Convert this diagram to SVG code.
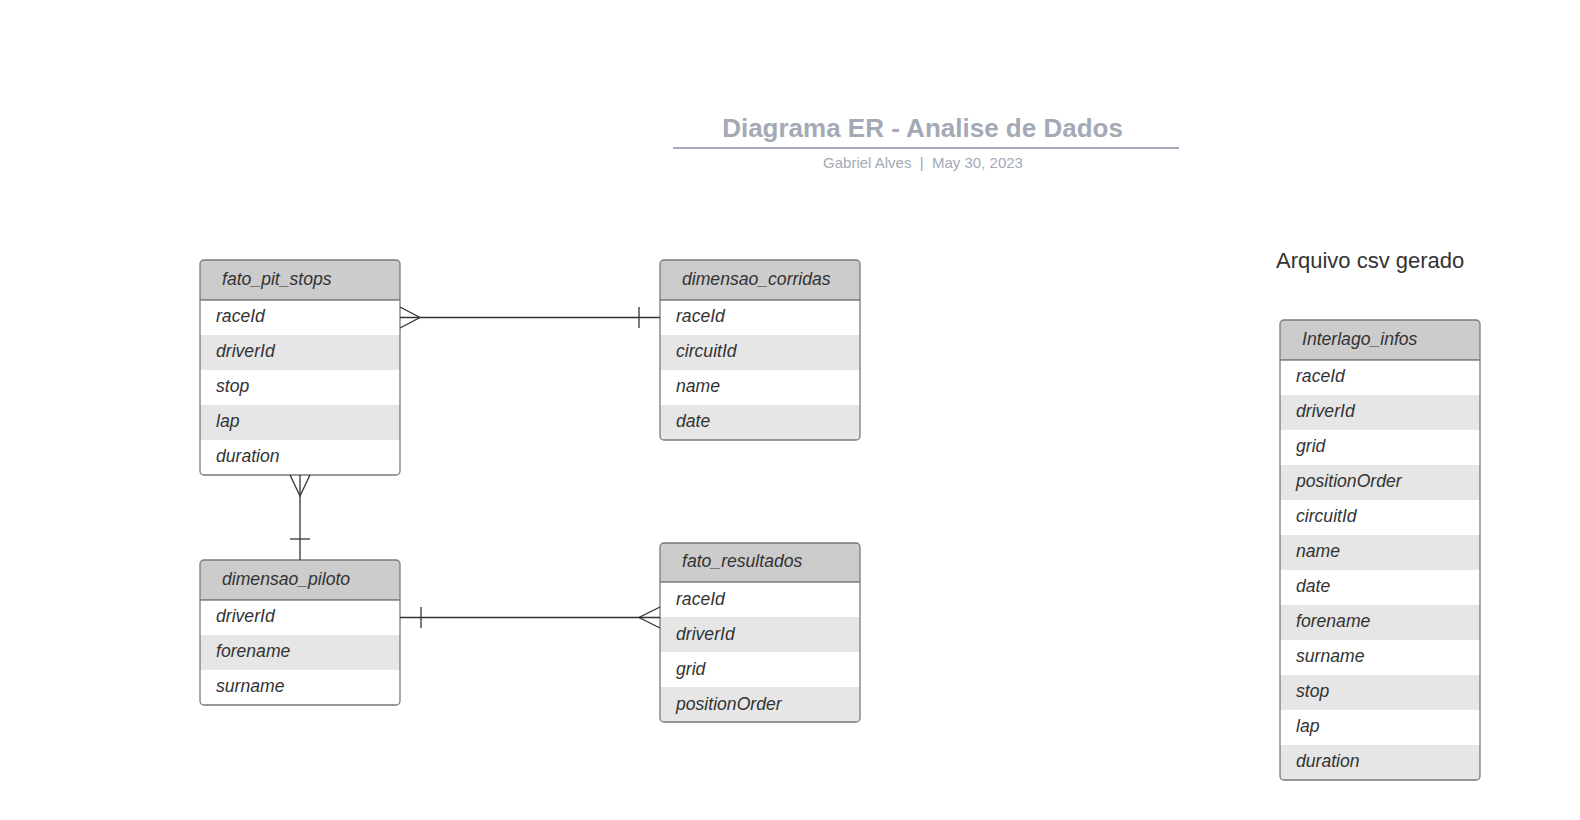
<svg xmlns="http://www.w3.org/2000/svg" width="1580" height="820" viewBox="0 0 1580 820">
<style>
.frame{fill:none;stroke:#7a7a7a;stroke-width:1.3}
.hdr{fill:#cccccc}
.hsep{stroke:#444;stroke-width:1.2}
.even{fill:#e6e6e6}
.ht{font-family:"Liberation Sans",Arial,sans-serif;font-size:17.6px;font-style:italic;fill:#333}
.rt{font-family:"Liberation Sans",Arial,sans-serif;font-size:17.6px;font-style:italic;fill:#333}
.conn{fill:none;stroke:#333;stroke-width:1.3}
.title{font-family:"Liberation Sans",Arial,sans-serif;font-size:26px;font-weight:bold;fill:#a4aab5}
.sub{font-family:"Liberation Sans",Arial,sans-serif;font-size:15px;fill:#a4aab5}
.note{font-family:"Liberation Sans",Arial,sans-serif;font-size:22px;fill:#333}
</style>
<rect width="1580" height="820" fill="#ffffff"/>

<g id="title">
<text class="title" x="922.5" y="137" text-anchor="middle">Diagrama ER - Analise de Dados</text>
<line x1="673" y1="148" x2="1179" y2="148" stroke="#a4aab5" stroke-width="2"/>
<text class="sub" x="923" y="168" text-anchor="middle" xml:space="preserve">Gabriel Alves  |  May 30, 2023</text>
</g>

<g id="fato_pit_stops">
<rect x="200" y="260" width="200" height="215" rx="4" fill="#fff"/>
<path class="hdr" d="M204,260 H396 A4,4 0 0 1 400,264 V300 H200 V264 A4,4 0 0 1 204,260 Z"/>
<rect class="even" x="200" y="335" width="200" height="35"/>
<rect class="even" x="200" y="405" width="200" height="35"/>
<line class="hsep" x1="200" y1="300" x2="400" y2="300"/>
<rect class="frame" x="200" y="260" width="200" height="215" rx="4"/>
<text class="ht" x="222" y="284.5">fato_pit_stops</text>
<text class="rt" x="216" y="322">raceId</text>
<text class="rt" x="216" y="357">driverId</text>
<text class="rt" x="216" y="392">stop</text>
<text class="rt" x="216" y="427">lap</text>
<text class="rt" x="216" y="462">duration</text>
</g>

<g id="dimensao_corridas">
<rect x="660" y="260" width="200" height="180" rx="4" fill="#fff"/>
<path class="hdr" d="M664,260 H856 A4,4 0 0 1 860,264 V300 H660 V264 A4,4 0 0 1 664,260 Z"/>
<rect class="even" x="660" y="335" width="200" height="35"/>
<path class="even" d="M660,405 H860 V436 A4,4 0 0 1 856,440 H664 A4,4 0 0 1 660,436 Z"/>
<line class="hsep" x1="660" y1="300" x2="860" y2="300"/>
<rect class="frame" x="660" y="260" width="200" height="180" rx="4"/>
<text class="ht" x="682" y="284.5">dimensao_corridas</text>
<text class="rt" x="676" y="322">raceId</text>
<text class="rt" x="676" y="357">circuitId</text>
<text class="rt" x="676" y="392">name</text>
<text class="rt" x="676" y="427">date</text>
</g>

<g id="dimensao_piloto">
<rect x="200" y="560" width="200" height="145" rx="4" fill="#fff"/>
<path class="hdr" d="M204,560 H396 A4,4 0 0 1 400,564 V600 H200 V564 A4,4 0 0 1 204,560 Z"/>
<rect class="even" x="200" y="635" width="200" height="35"/>
<line class="hsep" x1="200" y1="600" x2="400" y2="600"/>
<rect class="frame" x="200" y="560" width="200" height="145" rx="4"/>
<text class="ht" x="222" y="584.5">dimensao_piloto</text>
<text class="rt" x="216" y="622">driverId</text>
<text class="rt" x="216" y="657">forename</text>
<text class="rt" x="216" y="692">surname</text>
</g>

<g id="fato_resultados">
<rect x="660" y="543" width="200" height="179" rx="4" fill="#fff"/>
<path class="hdr" d="M664,543 H856 A4,4 0 0 1 860,547 V582 H660 V547 A4,4 0 0 1 664,543 Z"/>
<rect class="even" x="660" y="617" width="200" height="35"/>
<path class="even" d="M660,687 H860 V718 A4,4 0 0 1 856,722 H664 A4,4 0 0 1 660,718 Z"/>
<line class="hsep" x1="660" y1="582" x2="860" y2="582"/>
<rect class="frame" x="660" y="543" width="200" height="179" rx="4"/>
<text class="ht" x="682" y="567">fato_resultados</text>
<text class="rt" x="676" y="604.5">raceId</text>
<text class="rt" x="676" y="639.5">driverId</text>
<text class="rt" x="676" y="674.5">grid</text>
<text class="rt" x="676" y="709.5">positionOrder</text>
</g>

<g id="arquivo_label">
<text class="note" x="1276" y="268">Arquivo csv gerado</text>
</g>

<g id="Interlago_infos">
<rect x="1280" y="320" width="200" height="460" rx="4" fill="#fff"/>
<path class="hdr" d="M1284,320 H1476 A4,4 0 0 1 1480,324 V360 H1280 V324 A4,4 0 0 1 1284,320 Z"/>
<rect class="even" x="1280" y="395" width="200" height="35"/>
<rect class="even" x="1280" y="465" width="200" height="35"/>
<rect class="even" x="1280" y="535" width="200" height="35"/>
<rect class="even" x="1280" y="605" width="200" height="35"/>
<rect class="even" x="1280" y="675" width="200" height="35"/>
<path class="even" d="M1280,745 H1480 V776 A4,4 0 0 1 1476,780 H1284 A4,4 0 0 1 1280,776 Z"/>
<line class="hsep" x1="1280" y1="360" x2="1480" y2="360"/>
<rect class="frame" x="1280" y="320" width="200" height="460" rx="4"/>
<text class="ht" x="1302" y="344.5">Interlago_infos</text>
<text class="rt" x="1296" y="382">raceId</text>
<text class="rt" x="1296" y="417">driverId</text>
<text class="rt" x="1296" y="452">grid</text>
<text class="rt" x="1296" y="487">positionOrder</text>
<text class="rt" x="1296" y="522">circuitId</text>
<text class="rt" x="1296" y="557">name</text>
<text class="rt" x="1296" y="592">date</text>
<text class="rt" x="1296" y="627">forename</text>
<text class="rt" x="1296" y="662">surname</text>
<text class="rt" x="1296" y="697">stop</text>
<text class="rt" x="1296" y="732">lap</text>
<text class="rt" x="1296" y="767">duration</text>
</g>

<g id="connectors">
<path class="conn" d="M400,317.5 H660"/>
<path class="conn" d="M400,307 L420,317.5 L400,328"/>
<path class="conn" d="M639,307 V328"/>

<path class="conn" d="M300,475 V560"/>
<path class="conn" d="M290,475 L300,496 L310,475"/>
<path class="conn" d="M290,539 H310"/>

<path class="conn" d="M400,617.5 H660"/>
<path class="conn" d="M421,607 V628"/>
<path class="conn" d="M660,607 L639,617.5 L660,628"/>
</g>
</svg>
